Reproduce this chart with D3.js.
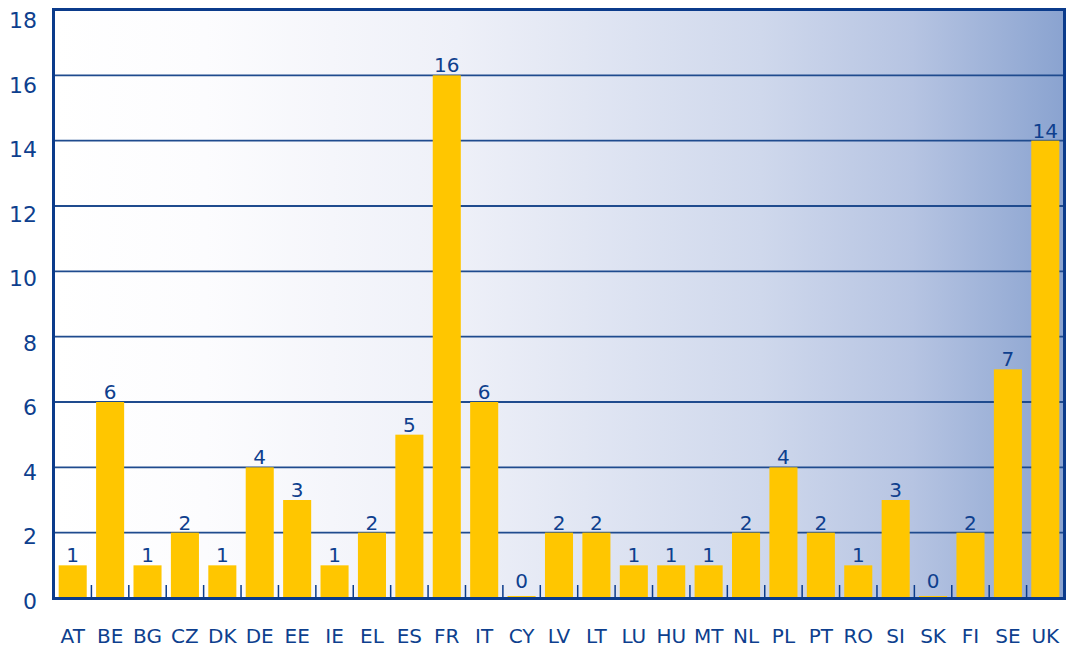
<!DOCTYPE html>
<html>
<head>
<meta charset="utf-8">
<script src="https://cdn.jsdelivr.net/npm/d3@7"></script>
<style>
  html, body { margin: 0; padding: 0; background: #ffffff; }
  svg { display: block; }
  text { font-family: "DejaVu Sans", Verdana, sans-serif; fill: #0e3f8e; }
</style>
</head>
<body>
<svg id="chart" width="1068" height="650"></svg>
<script>
const categories = ["AT","BE","BG","CZ","DK","DE","EE","IE","EL","ES","FR","IT","CY","LV","LT","LU","HU","MT","NL","PL","PT","RO","SI","SK","FI","SE","UK"];
const values = [1,6,1,2,1,4,3,1,2,5,16,6,0,2,2,1,1,1,2,4,2,1,3,0,2,7,14];
const yTicks = [0,2,4,6,8,10,12,14,16,18];

const svg = d3.select("#chart");
const mLeft = 54, mRight = 1064, mTop = 10, mBottom = 598;
const navy = "#0b3b8b";

const x = d3.scaleBand().domain(categories).range([mLeft, mRight]).paddingInner(0.25).paddingOuter(0.125);
const xStep = d3.scaleBand().domain(categories).range([mLeft, mRight]);
const y = d3.scaleLinear().domain([0, 18]).range([mBottom, mTop]);
const yLabel = d3.scaleLinear().domain([0, 18]).range([601, 20]);

// background gradient
const defs = svg.append("defs");
const grad = defs.append("linearGradient").attr("id", "bg").attr("x1", "0").attr("x2", "1").attr("y1", "0").attr("y2", "0");
[[0, "#ffffff"], [0.15, "#fcfcfe"], [0.4, "#eef0f8"], [0.7, "#cfd8ec"], [0.85, "#b6c4e2"], [1, "#8aa3d0"]]
  .forEach(([o, c]) => grad.append("stop").attr("offset", o).attr("stop-color", c));

svg.append("rect").attr("x", mLeft).attr("y", mTop).attr("width", mRight - mLeft).attr("height", mBottom - mTop).attr("fill", "url(#bg)");

// gridlines
svg.append("g").selectAll("line").data(yTicks.filter(t => t > 0 && t < 18)).join("line")
  .attr("x1", mLeft).attr("x2", mRight)
  .attr("y1", d => y(d)).attr("y2", d => y(d))
  .attr("stroke", "#1f4b8e").attr("stroke-width", 1.8);

// bars
svg.append("g").selectAll("rect").data(values).join("rect")
  .attr("x", (d, i) => x(categories[i]))
  .attr("width", x.bandwidth())
  .attr("y", d => Math.min(y(d), y(0) - 2))
  .attr("height", d => Math.max(y(0) - y(d), 2))
  .attr("fill", "#ffc600");

// category separator ticks
svg.append("g").selectAll("line").data(categories.slice(1)).join("line")
  .attr("x1", d => xStep(d)).attr("x2", d => xStep(d))
  .attr("y1", y(0) - 13).attr("y2", y(0))
  .attr("stroke", navy).attr("stroke-width", 1.5);

// value labels
svg.append("g").selectAll("text").data(values).join("text")
  .attr("x", (d, i) => x(categories[i]) + x.bandwidth() / 2)
  .attr("y", d => Math.min(y(d), y(0) - 7) - 3)
  .attr("text-anchor", "middle")
  .attr("font-size", 20)
  .text(d => d);

// frame
svg.append("rect").attr("x", mLeft - 0.5).attr("y", mTop - 0.5).attr("width", mRight - mLeft + 1).attr("height", mBottom - mTop + 1)
  .attr("fill", "none").attr("stroke", navy).attr("stroke-width", 3);

// y labels
svg.append("g").selectAll("text").data(yTicks).join("text")
  .attr("x", 37).attr("y", d => yLabel(d) + 8)
  .attr("text-anchor", "end")
  .attr("font-size", 22)
  .text(d => d);

// x labels
svg.append("g").selectAll("text").data(categories).join("text")
  .attr("x", d => x(d) + x.bandwidth() / 2)
  .attr("y", 643)
  .attr("text-anchor", "middle")
  .attr("font-size", 20)
  .text(d => d);
</script>
</body>
</html>
